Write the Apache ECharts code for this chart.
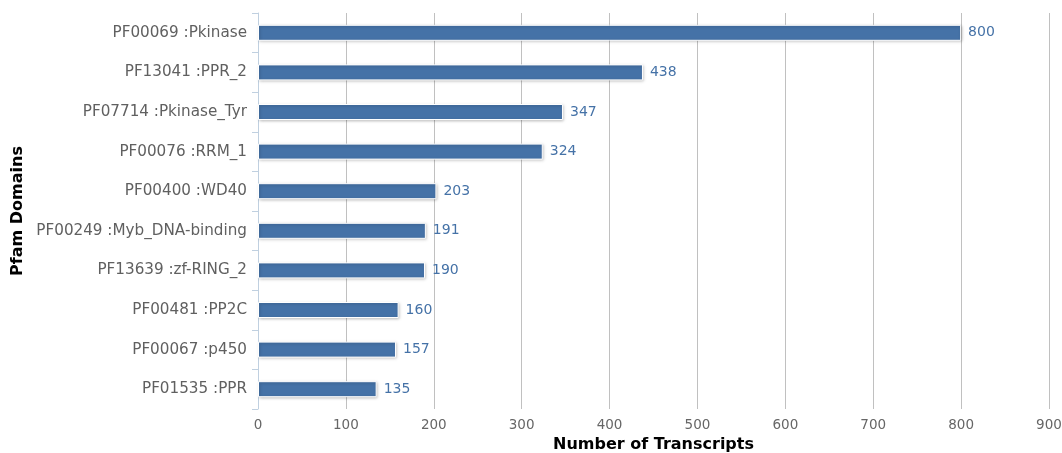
<!DOCTYPE html>
<html><head><meta charset="utf-8">
<script src="https://cdn.jsdelivr.net/npm/echarts@6/dist/echarts.min.js"></script>
<style>html,body{margin:0;padding:0;background:#fff}#c{width:1062px;height:453px}</style>
</head><body><div id="c"></div>
<script>
const categories = ["PF00069 :Pkinase","PF13041 :PPR_2","PF07714 :Pkinase_Tyr","PF00076 :RRM_1","PF00400 :WD40","PF00249 :Myb_DNA-binding","PF13639 :zf-RING_2","PF00481 :PP2C","PF00067 :p450","PF01535 :PPR"];
const transcripts = [800,438,347,324,203,191,190,160,157,135];
const xTicks = [0,100,200,300,400,500,600,700,800,900];

const chart = echarts.init(document.getElementById('c'));
const font = 'DejaVu Sans, Verdana, sans-serif';
chart.setOption({
  animation:false,
  grid:{left:258,right:13,top:13,bottom:44,containLabel:false,outerBoundsMode:'none'},
  xAxis:{type:'value',min:xTicks[0],max:xTicks[xTicks.length-1],interval:100,
    name:'Number of Transcripts',nameLocation:'middle',nameGap:27,
    nameTextStyle:{fontFamily:font,fontSize:16,fontWeight:'bold',color:'#000'},
    axisLine:{show:false},axisTick:{show:false},
    axisLabel:{fontFamily:font,fontSize:13.5,color:'#666',margin:9},
    splitLine:{show:true,lineStyle:{color:'#C0C0C0',width:1}}},
  yAxis:{type:'category',data:categories,inverse:true,
    name:'Pfam Domains',nameLocation:'middle',nameGap:232,nameRotate:90,
    nameTextStyle:{fontFamily:font,fontSize:16,fontWeight:'bold',color:'#000'},
    axisLine:{show:true,lineStyle:{color:'#C0D0E0',width:1}},
    axisTick:{show:true,length:6,lineStyle:{color:'#C0D0E0'}},
    axisLabel:{fontFamily:font,fontSize:15.2,color:'#606060',margin:11},
    splitLine:{show:false}},
  series:[{type:'bar',data:transcripts,barWidth:16,
    itemStyle:{color:'#4572A7',borderColor:'#fff',borderWidth:1,
      shadowColor:'rgba(0,0,0,0.25)',shadowBlur:3,shadowOffsetX:1,shadowOffsetY:1},
    label:{show:true,position:'right',distance:7,fontFamily:font,fontSize:14,color:'#4572A7'}}]
});
</script></body></html>
